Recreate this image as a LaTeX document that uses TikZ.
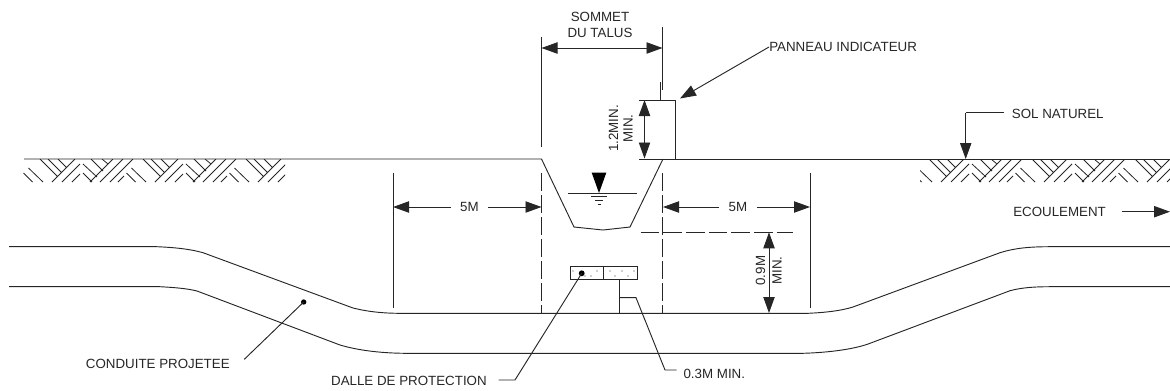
\documentclass[tikz,border=0pt]{standalone}
\usepackage{fontspec}
\setmainfont{Liberation Sans}
\usetikzlibrary{arrows.meta}
\tikzset{
  ln/.style={line width=0.7pt,black!85},
  arr/.style={ln,-{Triangle[length=12pt,width=8.5pt]}},
  arrs/.style={ln,{Triangle[length=12pt,width=8.5pt]}-{Triangle[length=12pt,width=8.5pt]}},
  dsh/.style={ln,dash pattern=on 13.5pt off 3pt},
  lab/.style={font=\fontsize{10pt}{11pt}\selectfont,inner sep=0pt,text=black!85},
  hat/.style={line width=0.6pt,black!85},
}
\newcommand{\hatchtile}{%
  \draw[hat] (23.5,173)--(32.5,182) (28.5,168)--(43,182) (40,159)--(57,176) (48,159)--(61,172) (58,159)--(66,167)
    (52,182)--(75,159) (62,182)--(80,164) (72,182)--(80,174)
    (83,164)--(97,177) (83,173)--(92,182)
    (90,182)--(113,159) (100,182)--(123,159) (110,182)--(133,159)
    (91,159)--(103,171) (102,159)--(108,164)
    (118,182)--(124,176);
}
\begin{document}
\begin{tikzpicture}[x=0.75pt,y=-0.75pt]
\useasboundingbox (0,0) rectangle (1170,390);
% hatching
\begin{scope}
  \clip (23,159) rectangle (285,183);
  \foreach \s in {0,103,206}{\begin{scope}[shift={(\s,0)}]\hatchtile\end{scope}}
\end{scope}
\begin{scope}
  \clip (920,159) rectangle (1170,183);
  \foreach \s in {786,889,992,1095}{\begin{scope}[shift={(\s,0)}]\hatchtile\end{scope}}
\end{scope}
% coordinates
\coordinate (gl0) at (24,159);
\coordinate (cl) at (541.5,159);
\coordinate (cb1) at (574,227);
\coordinate (cb2) at (603,230);
\coordinate (cb3) at (630,227);
\coordinate (cr) at (663,159);
\coordinate (gr1) at (675.5,159);
\coordinate (gr2) at (1170,159);
% ground and channel
\draw[ln] (gl0) -- (cl) -- (cb1) -- (cb2) -- (cb3) -- (cr);
\draw[ln] (gr1) -- (gr2);
% panel
\coordinate (pa) at (638.5,100);
\coordinate (pb) at (675.5,100);
\coordinate (pc) at (638.5,159);
\coordinate (pd) at (660,82);
\coordinate (pe) at (660,100);
\draw[ln] (pa) -- (pb) -- (gr1) -- (pc);
\draw[ln] (pd) -- (pe);
% top dimension
\coordinate (sl0) at (541.5,37);
\coordinate (sl1) at (541.5,147);
\coordinate (sr0) at (662.5,27);
\coordinate (sr1) at (662.5,90);
\coordinate (sa) at (541.5,48);
\coordinate (sb) at (662.5,48);
\draw[ln] (sl0) -- (sl1);
\draw[ln] (sr0) -- (sr1);
\draw[arrs] (sa) -- (sb);
\node[lab] (sommet) at (600,17) {SOMMET};
\node[lab] (talus) at (600,33) {DU TALUS};
% panel dimension
\coordinate (ha) at (644.5,100);
\coordinate (hb) at (644.5,158.5);
\draw[arrs] (ha) -- (hb);
\node[lab,rotate=90] (h1) at (613.5,128.5) {1.2MIN.};
\node[lab,rotate=90] (h2) at (628,128.5) {MIN.};
% panneau
\node[lab,anchor=west] (panneau) at (769,47) {PANNEAU INDICATEUR};
\coordinate (ptip) at (680,98.5);
\draw[arr] (panneau.west) -- (ptip);
% water
\coordinate (w1) at (591.7,172.7);
\coordinate (w2) at (606.3,172.7);
\coordinate (w3) at (599,193);
\fill[black] (w1) -- (w2) -- (w3) -- cycle;
\draw[ln] (568,193) -- (637,193);
\draw[ln] (591,196.7) -- (606.7,196.7);
\draw[ln] (595,200) -- (603,200);
\draw[ln] (597.5,204) -- (601,204);
% dashed verticals
\coordinate (dl0) at (541.5,173);
\coordinate (dl1) at (541.5,313);
\coordinate (dr0) at (662.7,173);
\coordinate (dr1) at (662.7,313);
\draw[dsh] (dl0) -- (dl1);
\draw[dsh] (dr0) -- (dr1);
% 5M dims
\coordinate (vl0) at (393,173);
\coordinate (vl1) at (393,308);
\coordinate (vr0) at (810,173);
\coordinate (vr1) at (810,308);
\draw[ln] (vl0) -- (vl1);
\draw[ln] (vr0) -- (vr1);
\node[lab] (m5l) at (469.5,207) {5M};
\node[lab] (m5r) at (738,207) {5M};
\coordinate (al) at (393,207);
\coordinate (bl) at (541.5,207);
\coordinate (ar) at (663,207);
\coordinate (br) at (810,207);
\draw[arr] ([xshift=-7pt]m5l.west) -- (al);
\draw[arr] ([xshift=7pt]m5l.east) -- (bl);
\draw[arr] ([xshift=-7pt]m5r.west) -- (ar);
\draw[arr] ([xshift=7pt]m5r.east) -- (br);
% 0.9M
\coordinate (nda) at (640.7,232.3);
\coordinate (ndb) at (793,232.3);
\draw[dsh,dash pattern=on 14pt off 3pt] (nda) -- (ndb);
\coordinate (na) at (769,232.3);
\coordinate (nb) at (769,313);
\draw[arrs] (na) -- (nb);
\node[lab,rotate=90] (n1) at (760.5,270.7) {0.9M};
\node[lab,rotate=90] (n2) at (777,270.7) {MIN.};
% slab
\draw[ln] (570.3,266.7) rectangle (637.7,279.3);
\draw[ln] (603.4,266.7) -- (603.4,279.3);
\foreach \a/\b in {573/271,585/276,591/276,597/271,610/271,615/276,622/271,628/276,634/271}
  \fill[black!80] (\a,\b) circle (0.45pt);
\coordinate (dalledot) at (581.7,273.3);
\fill[black] (dalledot) circle (2.2pt);
% dalle leader
\node[lab,anchor=east] (dalle) at (487,381) {DALLE DE PROTECTION};
\coordinate (d1) at (498.5,380);
\coordinate (d2) at (515,380);
\draw[ln] (d1) -- (d2) -- (dalledot);
% 0.3M
\coordinate (t0) at (619,279.3);
\coordinate (t1) at (619,314);
\coordinate (t2) at (619,297.7);
\coordinate (t3) at (636,297.7);
\coordinate (t4) at (665,370);
\coordinate (t5) at (676.7,370);
\draw[ln] (t0) -- (t1);
\draw[ln] (t2) -- (t3) -- (t4) -- (t5);
\node[lab,anchor=west] (tm) at (683.3,374) {0.3M MIN.};
% conduit
\draw[ln] (9,246.7) -- (157,246.7) .. controls (175,247.5) and (190,249) .. (203,252.7)
  -- (353,308) .. controls (365,311) and (380,313.3) .. (400,313.3)
  -- (808,313.3) .. controls (825,312.5) and (840,311) .. (853,307)
  -- (1000,252.7) .. controls (1015,248) and (1030,246.7) .. (1050,246.7) -- (1170,246.7);
\draw[ln] (9,286.7) -- (160,286.7) .. controls (175,287.5) and (187,288.5) .. (197,291)
  -- (340,345) .. controls (360,351) and (385,353.3) .. (407,353.3)
  -- (803,353.3) .. controls (830,352.5) and (855,349) .. (870,343.3)
  -- (1010,290.7) .. controls (1022,287.5) and (1035,286.7) .. (1050,286.7) -- (1170,286.7);
% conduite label
\coordinate (cdot) at (303.7,302);
\coordinate (cend) at (244.3,359.3);
\fill[black] (cdot) circle (2pt);
\draw[ln] (cend) -- (cdot);
\node[lab,anchor=west] (cond) at (85.7,364) {CONDUITE PROJETEE};
% sol naturel
\node[lab,anchor=west] (sol) at (1011.7,114) {SOL NATUREL};
\coordinate (s1) at (1004,112.7);
\coordinate (s2) at (965.7,112.7);
\coordinate (s3) at (965.7,159);
\draw[ln] (s1) -- (s2);
\draw[arr] (s2) -- (s3);
% ecoulement
\node[lab,anchor=west] (eco) at (1013,212) {ECOULEMENT};
\coordinate (e1) at (1121.7,211.7);
\coordinate (e2) at (1170,211.7);
\draw[arr] (e1) -- (e2);
\end{tikzpicture}
\end{document}
